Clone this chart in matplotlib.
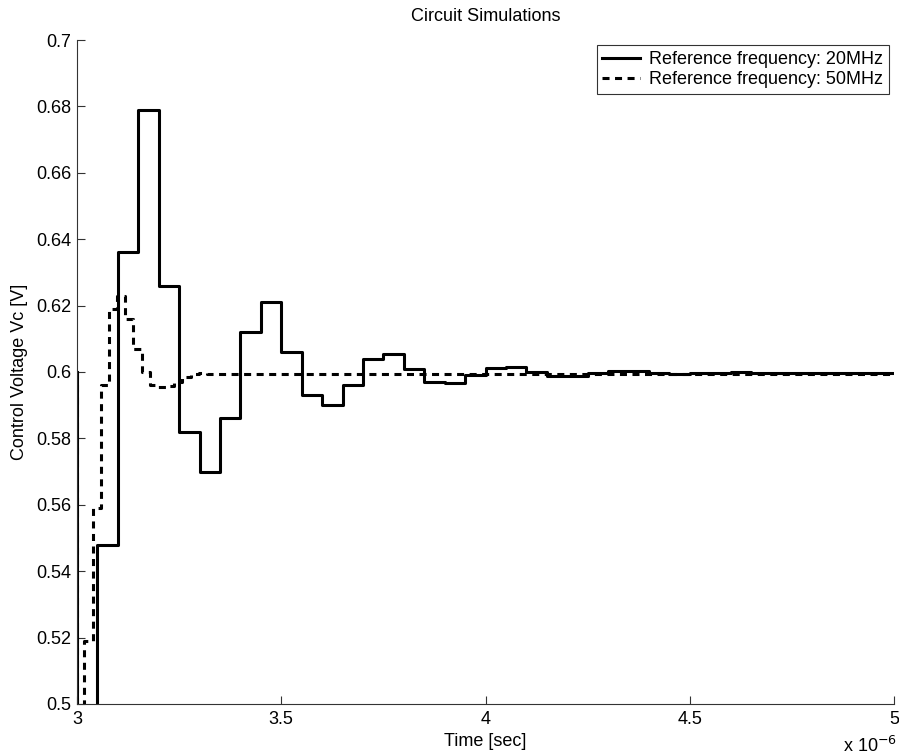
import matplotlib
matplotlib.use("Agg")
import matplotlib.pyplot as plt

plt.rcParams['font.family'] = ['Liberation Sans', 'DejaVu Sans']

# Time in microseconds (axis shows x 10^-6)
t_20 = [3.0, 3.0005, 3.05, 3.10, 3.15, 3.20, 3.25, 3.30, 3.35, 3.40, 3.45,
        3.50, 3.55, 3.60, 3.65, 3.70, 3.75, 3.80, 3.85, 3.90, 3.95, 4.00,
        4.05, 4.10, 4.15, 4.20, 4.25, 4.30, 4.35, 4.40, 4.45, 4.50, 4.55,
        4.60, 4.65, 4.70, 4.75, 4.80, 4.85, 4.90, 4.95, 5.00]
v_20 = [0.600, 0.470, 0.548, 0.636, 0.679, 0.626, 0.582, 0.570, 0.586, 0.612, 0.621,
        0.606, 0.593, 0.590, 0.596, 0.604, 0.6055, 0.601, 0.597, 0.5966, 0.599, 0.6012,
        0.6014, 0.6000, 0.5988, 0.5989, 0.5996, 0.6003, 0.6003, 0.5996, 0.5995, 0.5997, 0.5998,
        0.5999, 0.5998, 0.5997, 0.5997, 0.5998, 0.5998, 0.5997, 0.5997, 0.5997]

t_50 = [3.0, 3.0005, 3.018, 3.038, 3.058, 3.078, 3.098, 3.118, 3.138, 3.158,
        3.178, 3.198, 3.218, 3.238, 3.258, 3.278, 3.298, 3.318, 3.338, 5.00]
v_50 = [0.600, 0.460, 0.519, 0.559, 0.596, 0.619, 0.623, 0.616, 0.607, 0.600,
        0.596, 0.5955, 0.5958, 0.5970, 0.5985, 0.5995, 0.5996, 0.5994, 0.5993, 0.5993]

label_20 = 'Reference frequency: 20MHz'
label_50 = 'Reference frequency: 50MHz'

FS = 13

fig = plt.figure(figsize=(8.99, 7.56), dpi=100)
ax = fig.add_axes([77/899, 1-704/756, (894-77)/899, (704-40)/756])

ax.step(t_20, v_20, where='post', color='black', lw=2.2, label=label_20)
ax.step(t_50, v_50, where='post', color='black', lw=2.2, ls=(0, (2.3, 1.8)), label=label_50)

ax.set_xlim(3, 5)
ax.set_ylim(0.5, 0.7)
ax.set_xticks([3, 3.5, 4, 4.5, 5])
ax.set_xticklabels(['3', '3.5', '4', '4.5', '5'])
yt = [0.5, 0.52, 0.54, 0.56, 0.58, 0.6, 0.62, 0.64, 0.66, 0.68, 0.7]
ax.set_yticks(yt)
ax.set_yticklabels(['0.5', '0.52', '0.54', '0.56', '0.58', '0.6', '0.62', '0.64', '0.66', '0.68', '0.7'])
ax.tick_params(direction='in', length=6, width=0.8, labelsize=FS, color='#333333')
ax.tick_params(axis='x', pad=5)
ax.tick_params(axis='y', pad=4)
for s in ['top', 'right']:
    ax.spines[s].set_visible(False)
for s in ['left', 'bottom']:
    ax.spines[s].set_color('#333333')
    ax.spines[s].set_linewidth(0.8)

ax.set_title('Circuit Simulations', fontsize=FS, pad=14)
ax.set_xlabel('Time [sec]', fontsize=FS, labelpad=4)
ax.set_ylabel('Control Voltage Vc [V]', fontsize=FS, labelpad=6)
fig.text(870/899, 1-746/756, r'x 10$^{-6}$', fontsize=FS, ha='center', va='center')

leg = ax.legend(loc='upper right', fontsize=FS, frameon=True, fancybox=False,
                handlelength=2.1, handletextpad=0.5, borderpad=0.3, labelspacing=0.2,
                borderaxespad=0.3)
leg.get_frame().set_edgecolor('black')
leg.get_frame().set_linewidth(0.8)

fig.savefig('out.png', dpi=100)
